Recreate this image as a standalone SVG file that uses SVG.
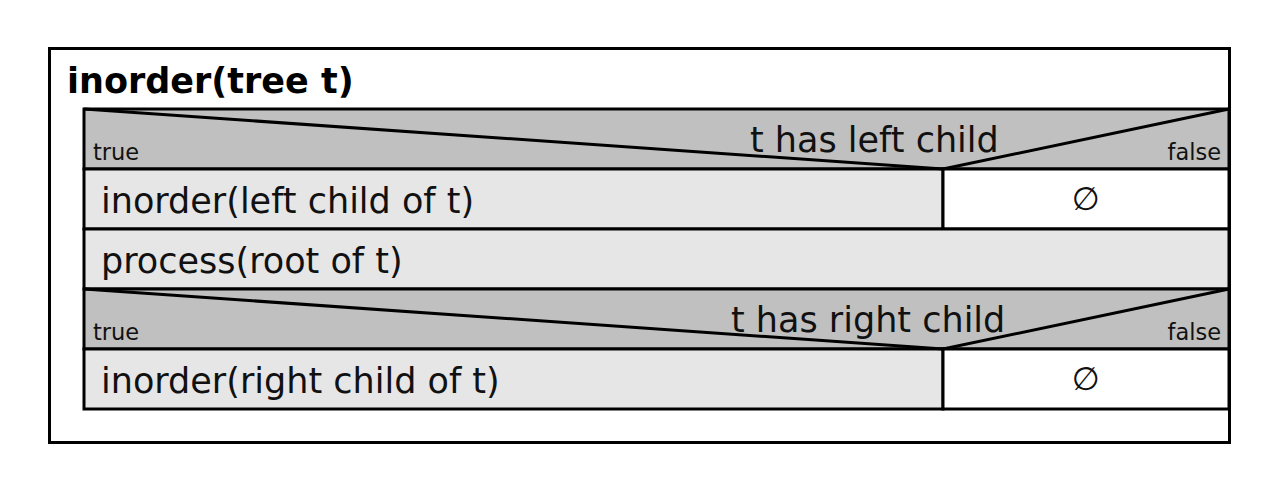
<svg xmlns="http://www.w3.org/2000/svg" width="1280" height="493" viewBox="0 0 1280 493">
<style>
.frame{fill:#fff;stroke:#000;stroke-width:3}
.dec{fill:#c0c0c0;stroke:#000;stroke-width:3}
.act{fill:#e6e6e6;stroke:#000;stroke-width:3}
.empty{fill:#fff;stroke:#000;stroke-width:3}
.diag{fill:none;stroke:#000;stroke-width:3;stroke-linejoin:miter}
.t{font-family:"DejaVu Sans",Verdana,sans-serif;font-size:35px;fill:#111}
.title{font-family:"DejaVu Sans",Verdana,sans-serif;font-size:35px;font-weight:bold;fill:#000}
.small{font-family:"DejaVu Sans",Verdana,sans-serif;font-size:22.5px;fill:#111}
.sym{font-family:"DejaVu Sans",sans-serif;font-size:32px;fill:#111}
</style>
<rect width="1280" height="493" fill="#fff"/>
<g id="frame">
<rect class="frame" x="49.5" y="48.5" width="1180" height="394"/>
<text class="title" x="67" y="93">inorder(tree t)</text>
</g>
<g id="if-left">
<rect class="dec" x="84" y="109" width="1145" height="60"/>
<text class="small" x="93" y="160">true</text>
<text class="small" x="1221" y="160" text-anchor="end">false</text>
<text class="t" x="750" y="152">t has left child</text>
</g>
<g id="inorder-left">
<rect class="act" x="84" y="169" width="859" height="60"/>
<text class="t" x="101" y="213">inorder(left child of t)</text>
</g>
<g id="empty-left">
<rect class="empty" x="943" y="169" width="286" height="60"/>
<text class="sym" x="1086" y="210" text-anchor="middle">∅</text>
</g>
<g id="process-root">
<rect class="act" x="84" y="229" width="1145" height="60"/>
<text class="t" x="101" y="273">process(root of t)</text>
</g>
<g id="if-right">
<rect class="dec" x="84" y="289" width="1145" height="60"/>
<text class="small" x="93" y="340">true</text>
<text class="small" x="1221" y="340" text-anchor="end">false</text>
<text class="t" x="731" y="332">t has right child</text>
</g>
<g id="inorder-right">
<rect class="act" x="84" y="349" width="859" height="60"/>
<text class="t" x="101" y="393">inorder(right child of t)</text>
</g>
<g id="empty-right">
<rect class="empty" x="943" y="349" width="286" height="60"/>
<text class="sym" x="1086" y="390" text-anchor="middle">∅</text>
</g>
<g id="connectors">
<polyline class="diag" points="84,109 943,169 1229,109"/>
<polyline class="diag" points="84,289 943,349 1229,289"/>
</g>
</svg>
